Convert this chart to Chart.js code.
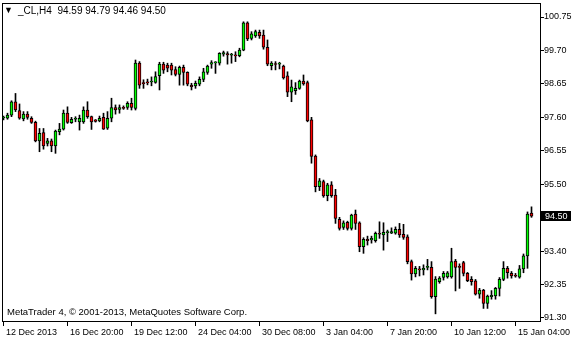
<!DOCTYPE html>
<html>
<head>
<meta charset="utf-8">
<script src="https://cdn.jsdelivr.net/npm/chart.js@4.4.1/dist/chart.umd.min.js"></script>
<style>
  html, body { margin: 0; padding: 0; background: #fff; }
  canvas { display: block; }
</style>
</head>
<body>
<canvas id="clChart" width="580" height="340"></canvas>
<script>
const symbol = '_CL';
const period = 'H4';

// H4 bars, oldest first
const opens = [
  97.58, 97.57, 97.67, 98.09, 97.81, 97.55, 97.70, 97.57, 97.44, 96.86,
  97.12, 96.78, 96.86, 96.70, 97.15, 97.23, 97.73, 97.43, 97.54, 97.46,
  97.46, 97.83, 97.62, 97.52, 97.49, 97.60, 97.26, 97.57, 97.91, 97.85,
  97.90, 97.91, 98.04, 97.88, 99.30, 98.67, 98.70, 98.71, 98.70, 98.91,
  99.27, 99.24, 99.24, 99.10, 98.95, 99.17, 99.01, 98.61, 98.59, 98.64,
  98.79, 99.01, 99.27, 99.31, 99.30, 99.58, 99.60, 99.55, 99.56, 99.54,
  99.71, 100.57, 100.08, 100.16, 100.27, 100.18, 99.80, 99.22, 99.28, 99.27,
  99.21, 98.90, 98.39, 98.44, 98.51, 98.74, 98.69, 97.52, 96.38, 95.42,
  95.58, 95.14, 95.48, 95.16, 94.40, 94.14, 94.30, 94.11, 94.56, 94.29,
  93.54, 93.77, 93.75, 93.73, 93.96, 93.91, 93.98, 93.96, 93.96, 94.08,
  93.93, 93.85, 93.07, 92.68, 92.84, 92.81, 92.89, 92.89, 91.97, 92.44,
  92.57, 92.59, 92.59, 93.09, 92.92, 93.04, 92.70, 92.51, 92.47, 92.05,
  92.18, 91.76, 91.97, 91.99, 92.23, 92.51, 92.86, 92.70, 92.62, 92.58,
  92.84, 93.25, 94.59
];
const highs = [
  97.64, 97.73, 98.12, 98.35, 98.02, 97.78, 97.78, 97.62, 97.48, 97.25,
  97.25, 96.94, 96.92, 97.20, 97.41, 97.83, 97.93, 97.60, 97.62, 97.67,
  97.93, 98.09, 97.64, 97.53, 97.64, 97.73, 97.78, 98.20, 97.99, 97.99,
  97.96, 98.09, 98.20, 99.40, 99.35, 98.78, 98.80, 98.87, 99.03, 99.33,
  99.33, 99.30, 99.30, 99.19, 99.21, 99.24, 99.03, 98.67, 98.74, 98.87,
  99.14, 99.24, 99.38, 99.35, 99.63, 99.68, 99.66, 99.61, 99.66, 99.77,
  100.60, 100.60, 100.29, 100.34, 100.34, 100.34, 100.03, 99.35, 99.35, 99.33,
  99.24, 99.03, 98.77, 98.69, 98.77, 98.93, 98.74, 97.60, 96.42, 95.68,
  95.63, 95.53, 95.58, 95.34, 94.46, 94.35, 94.34, 94.56, 94.69, 94.32,
  93.82, 93.87, 93.87, 94.00, 94.32, 94.29, 94.06, 94.13, 94.16, 94.27,
  94.24, 93.91, 93.12, 92.92, 92.92, 92.97, 93.14, 93.07, 92.60, 92.60,
  92.76, 92.76, 93.49, 93.14, 93.00, 93.08, 92.73, 92.60, 92.51, 92.23,
  92.20, 92.02, 92.16, 92.26, 92.57, 93.07, 92.92, 92.76, 92.70, 92.95,
  93.31, 94.63, 94.79
];
const lows = [
  97.52, 97.54, 97.62, 97.78, 97.54, 97.49, 97.54, 97.41, 96.83, 96.52,
  96.60, 96.70, 96.52, 96.47, 97.05, 97.20, 97.41, 97.41, 97.46, 97.20,
  97.41, 97.57, 97.22, 97.45, 97.46, 97.22, 97.22, 97.46, 97.70, 97.73,
  97.85, 97.85, 97.83, 97.83, 98.51, 98.51, 98.62, 98.59, 98.67, 98.46,
  98.98, 99.03, 98.93, 98.90, 98.61, 98.61, 98.59, 98.46, 98.51, 98.59,
  98.72, 98.95, 99.14, 98.98, 99.24, 99.52, 99.27, 99.30, 99.35, 99.50,
  99.69, 100.01, 100.03, 100.11, 100.08, 99.74, 99.22, 99.09, 99.09, 99.12,
  98.80, 98.25, 98.09, 98.32, 98.48, 98.61, 97.46, 96.16, 95.26, 95.30,
  95.09, 94.98, 95.09, 94.27, 94.06, 94.08, 94.06, 94.06, 94.08, 93.38,
  93.33, 93.59, 93.65, 93.68, 93.80, 93.43, 93.70, 93.95, 93.93, 93.83,
  93.77, 93.00, 92.49, 92.59, 92.62, 92.65, 92.81, 91.92, 91.43, 92.39,
  92.49, 92.55, 92.55, 92.15, 92.23, 92.62, 92.44, 92.33, 92.02, 91.92,
  91.60, 91.60, 91.89, 91.89, 91.99, 92.47, 92.55, 92.55, 92.58, 92.55,
  92.72, 92.86, 94.46
];
const closes = [
  97.60, 97.67, 98.09, 97.83, 97.57, 97.70, 97.60, 97.44, 96.86, 97.10,
  96.70, 96.86, 96.70, 97.17, 97.23, 97.73, 97.44, 97.54, 97.55, 97.57,
  97.83, 97.62, 97.46, 97.47, 97.57, 97.23, 97.57, 97.91, 97.83, 97.91,
  97.88, 98.04, 97.91, 99.30, 98.61, 98.66, 98.68, 98.72, 98.88, 99.27,
  99.08, 99.14, 99.08, 98.95, 99.17, 99.01, 98.64, 98.56, 98.67, 98.79,
  99.03, 99.21, 99.32, 99.32, 99.61, 99.63, 99.56, 99.56, 99.53, 99.71,
  100.57, 100.06, 100.22, 100.29, 100.16, 99.80, 99.27, 99.30, 99.26, 99.30,
  98.84, 98.39, 98.56, 98.51, 98.74, 98.65, 97.49, 96.37, 95.42, 95.61,
  95.13, 95.48, 95.14, 94.43, 94.11, 94.29, 94.11, 94.53, 94.27, 93.54,
  93.77, 93.73, 93.80, 93.96, 93.93, 93.99, 94.00, 94.01, 94.08, 93.91,
  93.83, 93.07, 92.68, 92.86, 92.81, 92.86, 92.92, 91.97, 92.52, 92.55,
  92.70, 92.72, 93.07, 92.89, 92.89, 92.70, 92.47, 92.44, 92.05, 92.18,
  91.76, 91.99, 92.01, 92.23, 92.51, 92.86, 92.72, 92.62, 92.61, 92.84,
  93.25, 94.56, 94.50
];

// bar index of each time label on the bottom scale
const xTickIndex = [0, 16, 32, 48, 64, 80, 96, 112, 128];
const xTickLabels = [
  '12 Dec 2013', '16 Dec 20:00', '19 Dec 12:00', '24 Dec 04:00', '30 Dec 08:00',
  '3 Jan 04:00', '7 Jan 20:00', '10 Jan 12:00', '15 Jan 04:00',
];
const yTicks = [100.75, 99.70, 98.65, 97.60, 96.55, 95.50, 93.40, 92.35, 91.30];
const copyright = 'MetaTrader 4, \u00a9 2001-2013, MetaQuotes Software Corp.';

const FONT = '"Liberation Sans", Arial, sans-serif';
const bullColor = '#00ff00';
const bearColor = '#ff0000';

const bodies = opens.map((o, i) => ({ x: i, y: [o, closes[i]] }));
const wicks = opens.map((o, i) => ({ x: i, y: [lows[i], highs[i]] }));
const bodyColors = opens.map((o, i) => (closes[i] >= o ? bullColor : bearColor));

// frame, header line, copyright and current price box
const terminalPlugin = {
  id: 'terminal',
  afterDraw(chart) {
    const { ctx, chartArea: a } = chart;
    const yScale = chart.scales.y;
    const last = closes.length - 1;
    ctx.save();
    ctx.strokeStyle = '#000';
    ctx.lineWidth = 1;
    ctx.strokeRect(a.left + 0.5, a.top + 0.5, a.right - a.left - 1, a.bottom - a.top - 1);

    ctx.fillStyle = '#000';
    ctx.textBaseline = 'middle';
    ctx.font = '9px ' + FONT;
    ctx.fillText('\u25bc', 4, 11);
    ctx.font = '10px ' + FONT;
    const vals = [opens[last], highs[last], lows[last], closes[last]].map(v => v.toFixed(2)).join(' ');
    ctx.fillText(`${symbol},${period}  ${vals}`, 18, 11.5);

    ctx.font = '9.5px ' + FONT;
    ctx.fillText(copyright, 7, 312);

    // current price marker on the scale
    const py = Math.round(yScale.getPixelForValue(closes[last]));
    ctx.fillRect(a.right, py - 5, 30, 10);
    ctx.fillStyle = '#fff';
    ctx.font = '9px ' + FONT;
    ctx.fillText(closes[last].toFixed(2), a.right + 4, py + 0.5);
    ctx.restore();
  },
};

const scalesConfig = {
  x: {
    type: 'linear',
    offset: false,
    min: -0.375,
    max: 134.375,
    afterBuildTicks: scale => {
      scale.ticks = xTickIndex.map(v => ({ value: v }));
    },
    afterFit: scale => {
      scale.height = 18;
      scale.paddingLeft = 0;
      scale.paddingRight = 0;
    },
    grid: {
      offset: false,
      drawOnChartArea: false,
      drawTicks: true,
      tickLength: 4,
      color: '#000',
    },
    border: { display: false },
    ticks: {
      align: 'start',
      padding: 1,
      maxRotation: 0,
      autoSkip: false,
      color: '#000',
      font: { family: FONT, size: 9 },
      callback: value => ' ' + xTickLabels[xTickIndex.indexOf(value)],
    },
  },
  y: {
    type: 'linear',
    position: 'right',
    min: 91.174,
    max: 101.19,
    afterBuildTicks: scale => {
      scale.ticks = yTicks.map(v => ({ value: v }));
    },
    afterFit: scale => {
      scale.width = 39;
      scale.paddingTop = 0;
      scale.paddingBottom = 0;
    },
    grid: {
      drawOnChartArea: false,
      drawTicks: true,
      tickLength: 3,
      color: '#000',
    },
    border: { display: false },
    ticks: {
      padding: 0,
      color: '#000',
      font: { family: FONT, size: 9 },
      callback: value => value.toFixed(2),
    },
  },
};

const globalConfig = {
  type: 'bar',
  data: {
    datasets: [
      {
        label: 'body',
        data: bodies,
        order: 0,
        barThickness: 3,
        minBarLength: 1,
        borderWidth: 1,
        borderSkipped: false,
        borderColor: '#000',
        backgroundColor: bodyColors,
        grouped: false,
      },
      {
        label: 'wick',
        data: wicks,
        order: 1,
        barThickness: 1,
        borderWidth: 0,
        backgroundColor: '#000',
        grouped: false,
      },
    ],
  },
  options: {
    responsive: false,
    animation: false,
    devicePixelRatio: 1,
    layout: { padding: { left: 2, top: 3, right: 0, bottom: 0 } },
    scales: scalesConfig,
    plugins: {
      legend: { display: false },
      tooltip: { enabled: false },
    },
  },
  plugins: [terminalPlugin],
};

new Chart('clChart', globalConfig);
</script>
</body>
</html>
